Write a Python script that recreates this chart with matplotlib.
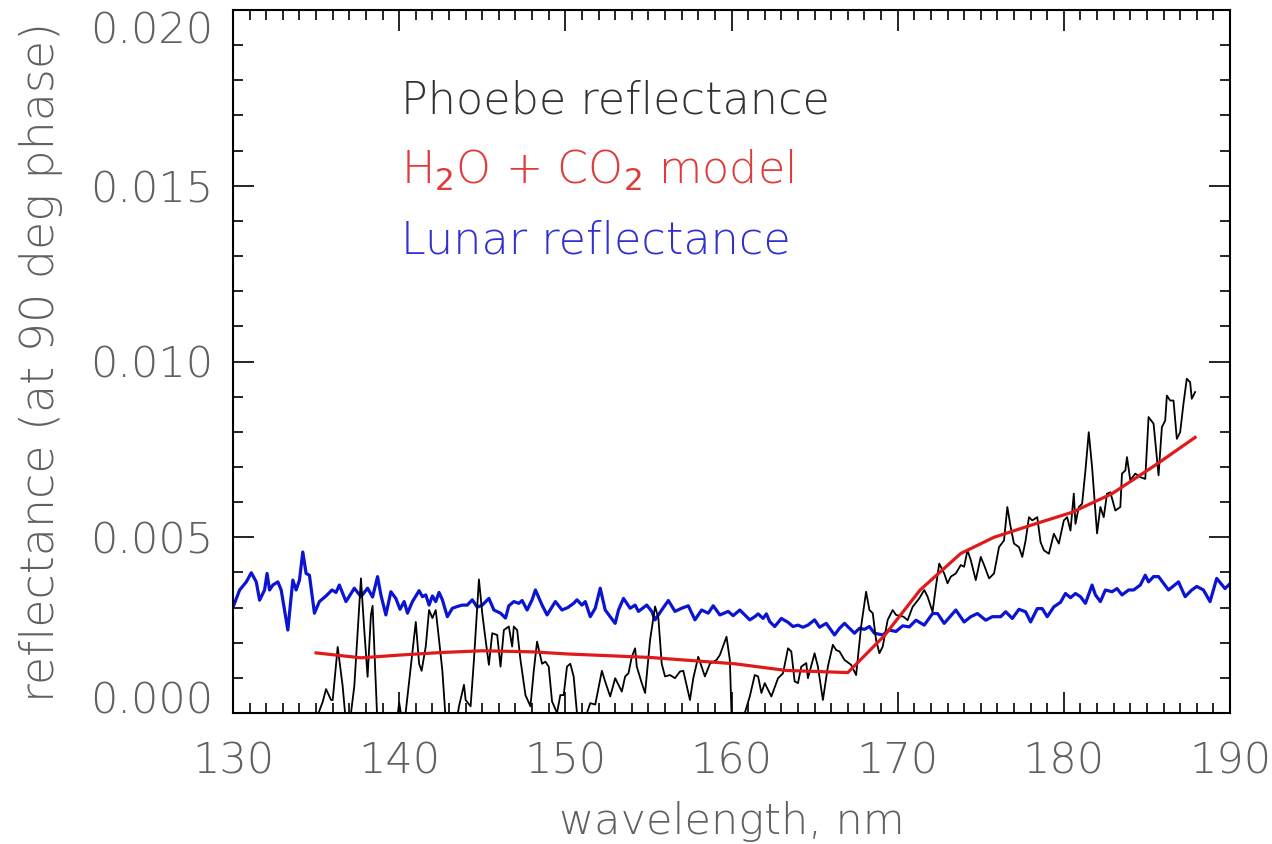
import numpy as np
import matplotlib
matplotlib.use('Agg')
import matplotlib.pyplot as plt
from matplotlib.ticker import MultipleLocator

# Lunar reflectance (blue)
lunar_wl = [130.0, 130.4, 130.8, 131.1, 131.4, 131.6, 131.9, 132.05, 132.2, 132.4, 132.7, 132.9,
            133.3, 133.6, 133.8, 134.0, 134.2, 134.4, 134.6, 134.9, 135.2, 135.6, 135.96, 136.2,
            136.4, 136.8, 137.3, 137.7, 138.1, 138.4, 138.7, 138.9, 139.2, 139.5, 139.8, 140.05,
            140.3, 140.5, 140.8, 141.2, 141.4, 141.6, 141.8, 142.0, 142.2, 142.4, 142.6, 142.9,
            143.2, 143.5, 143.8, 144.1, 144.4, 144.7, 145.0, 145.4, 145.7, 146.1, 146.4, 146.6,
            146.9, 147.2, 147.4, 147.7, 148.0, 148.2, 148.6, 148.9, 149.4, 149.8, 150.15, 150.5,
            150.7, 151.0, 151.2, 151.5, 151.8, 152.1, 152.4, 152.7, 153.0, 153.2, 153.5, 153.9,
            154.2, 154.4, 154.9, 155.2, 155.4, 155.8, 156.2, 156.6, 157.0, 157.4, 157.8, 158.2,
            158.6, 158.9, 159.3, 159.8, 160.1, 160.5, 160.8, 161.1, 161.4, 161.6, 161.9, 162.1,
            162.3, 162.6, 163.0, 163.4, 163.7, 164.0, 164.3, 164.6, 165.0, 165.3, 165.7, 166.2,
            166.5, 166.8, 167.1, 167.4, 167.7, 168.0, 168.3, 168.6, 169.1, 169.5, 169.9, 170.3,
            170.7, 171.1, 171.6, 172.1, 172.4, 172.8, 173.5, 174.0, 174.4, 174.8, 175.3, 175.7,
            176.2, 176.5, 176.9, 177.3, 177.7, 178.0, 178.4, 178.7, 179.0, 179.4, 179.8, 180.1,
            180.4, 180.7, 181.0, 181.3, 181.7, 181.9, 182.2, 182.5, 182.9, 183.2, 183.5, 183.9,
            184.2, 184.6, 184.9, 185.1, 185.4, 185.7, 186.3, 186.9, 187.3, 187.7, 188.0, 188.4,
            188.8, 189.2, 189.7, 190.0]
lunar_r = [0.00301, 0.0035, 0.00373, 0.00399, 0.00373, 0.00321, 0.0035, 0.00397, 0.0035, 0.00364, 0.00373, 0.0035,
           0.00236, 0.00378, 0.0035, 0.00378, 0.00458, 0.00397, 0.00392, 0.00284, 0.00317, 0.00333, 0.0035, 0.00343,
           0.00364, 0.00317, 0.00355, 0.00331, 0.00355, 0.0033, 0.00388, 0.00336, 0.00279, 0.00345, 0.00326, 0.00295,
           0.00317, 0.00284, 0.00317, 0.00348, 0.00331, 0.00336, 0.00307, 0.00333, 0.00317, 0.00343, 0.00322, 0.00274,
           0.00298, 0.00303, 0.00307, 0.00307, 0.00322, 0.00301, 0.00307, 0.00326, 0.00293, 0.00284, 0.0027, 0.00305,
           0.00317, 0.00312, 0.0032, 0.00293, 0.00322, 0.0035, 0.00307, 0.00279, 0.00317, 0.00293, 0.003, 0.00312,
           0.00322, 0.00307, 0.00317, 0.00274, 0.00298, 0.00355, 0.00293, 0.00274, 0.00255, 0.00293, 0.00326, 0.00298,
           0.00307, 0.00289, 0.00307, 0.00289, 0.00265, 0.00293, 0.0032, 0.00289, 0.00298, 0.00305, 0.00265, 0.00293,
           0.00284, 0.00305, 0.00279, 0.00289, 0.00277, 0.00293, 0.00279, 0.00265, 0.00274, 0.00282, 0.00269, 0.00282,
           0.0026, 0.00246, 0.00269, 0.00258, 0.00246, 0.0025, 0.00244, 0.0025, 0.00265, 0.00244, 0.00255, 0.00222,
           0.00241, 0.00255, 0.00241, 0.00227, 0.00241, 0.00238, 0.00246, 0.00227, 0.00222, 0.00236, 0.00232, 0.00248,
           0.00245, 0.00264, 0.0025, 0.00283, 0.00283, 0.00255, 0.00293, 0.00259, 0.00274, 0.00283, 0.00264, 0.00274,
           0.00274, 0.00288, 0.00269, 0.00295, 0.00288, 0.00259, 0.00297, 0.00297, 0.00274, 0.00302, 0.00315, 0.0034,
           0.00328, 0.0034, 0.00331, 0.00312, 0.00364, 0.00336, 0.00317, 0.0035, 0.00345, 0.00354, 0.00336, 0.0035,
           0.0035, 0.00364, 0.00392, 0.00373, 0.00388, 0.00388, 0.0035, 0.00373, 0.00331, 0.0035, 0.0036, 0.0035,
           0.00317, 0.00383, 0.00354, 0.00368]

# Phoebe reflectance (black)
phoebe_wl = [135.15, 135.4, 135.6, 135.9, 136.0, 136.3, 136.6, 136.8, 137.1, 137.3, 137.7, 137.9,
             138.1, 138.3, 138.4, 138.7, 139.0, 139.5, 139.8, 140.0, 140.2, 140.4, 140.7, 141.0,
             141.2, 141.35, 141.6, 141.8, 142.0, 142.2, 142.4, 142.6, 142.8, 143.1, 143.4, 143.6,
             143.9, 144.0, 144.3, 144.5, 144.8, 145.0, 145.2, 145.4, 145.6, 145.9, 146.1, 146.3,
             146.6, 146.8, 146.9, 147.1, 147.3, 147.6, 147.9, 148.1, 148.3, 148.6, 148.8, 149.0,
             149.2, 149.5, 149.7, 149.9, 150.1, 150.3, 150.5, 150.7, 150.9, 151.1, 151.3, 151.5,
             151.8, 152.2, 152.4, 152.7, 153.0, 153.4, 153.6, 153.8, 154.0, 154.2, 154.3, 154.6,
             154.8, 155.1, 155.4, 155.6, 155.8, 156.0, 156.3, 156.6, 156.9, 157.1, 157.5, 157.7,
             158.0, 158.4, 158.7, 159.1, 159.3, 159.7, 159.9, 160.0, 160.2, 160.5, 160.8, 161.1,
             161.4, 161.6, 161.8, 162.0, 162.4, 162.8, 163.1, 163.4, 163.6, 163.8, 164.0, 164.2,
             164.5, 164.6, 165.0, 165.2, 165.5, 165.8, 166.1, 166.3, 166.5, 166.8, 167.2, 167.5,
             167.8, 168.1, 168.3, 168.5, 168.7, 168.9, 169.1, 169.4, 169.7, 169.9, 170.35, 170.6,
             170.9, 171.3, 171.6, 171.8, 172.1, 172.3, 172.5, 172.8, 173.0, 173.2, 173.5, 173.8,
             174.0, 174.2, 174.4, 174.7, 175.0, 175.2, 175.5, 175.8, 176.1, 176.4, 176.6, 176.8,
             177.0, 177.3, 177.5, 177.7, 177.9, 178.1, 178.4, 178.6, 178.8, 179.1, 179.4, 179.7,
             180.0, 180.2, 180.4, 180.6, 180.7, 180.9, 181.1, 181.3, 181.5, 181.7, 182.0, 182.2,
             182.4, 182.6, 182.8, 183.1, 183.4, 183.5, 183.7, 183.8, 184.0, 184.3, 184.6, 184.9,
             185.1, 185.4, 185.7, 185.9, 186.1, 186.2, 186.4, 186.6, 186.8, 187.0, 187.2, 187.4,
             187.6, 187.7, 187.9]
phoebe_r = [0.0, 0.00032, 0.00068, 0.00037, 0.00037, 0.00188, 0.00076, -0.0003, 0.0, 0.00076, 0.00383, 0.00236,
            0.00103, 0.00279, 0.00305, -0.0004, -0.0012, -0.0008, -0.0005, 0.0003, -0.0003, 0.00005, 0.00132, 0.00259,
            0.0014, 0.0012, 0.00189, 0.00293, 0.0027, 0.00293, 0.00208, 0.0012, -0.0002, -0.0009, -0.0004, 0.00019,
            0.0008, 0.00037, 0.00019, 0.00151, 0.0038, 0.00284, 0.00208, 0.00137, 0.00227, 0.00222, 0.00132, 0.00236,
            0.00246, 0.00189, 0.00246, 0.00236, 0.00151, 0.00051, 0.00019, 0.0012, 0.00203, 0.0014, 0.00146, 0.00132,
            0.00033, 0.0, 0.00051, 0.00051, 0.00132, 0.0014, 0.00104, 0.0, -0.0008, -0.0005, 0.0, 0.00028,
            0.00024, 0.0012, 0.00089, 0.00047, 0.00099, 0.00061, 0.00104, 0.00113, 0.0016, 0.00184, 0.00132, 0.00085,
            0.00057, 0.00208, 0.00303, 0.0027, 0.0014, 0.00104, 0.00108, 0.00099, 0.00118, 0.0012, 0.00037, 0.00099,
            0.0016, 0.00104, 0.0014, 0.00151, 0.00165, 0.00217, 0.00151, 0.0, -0.0012, -0.0006, 0.0, 0.00047,
            0.00108, 0.00104, 0.00057, 0.00085, 0.00047, 0.00099, 0.00113, 0.00184, 0.00175, 0.0009, 0.00085, 0.00132,
            0.00142, 0.00099, 0.0017, 0.00132, 0.00037, 0.00132, 0.00194, 0.00179, 0.00175, 0.00151, 0.00137, 0.00108,
            0.00246, 0.00345, 0.00293, 0.00284, 0.00208, 0.0017, 0.00189, 0.00265, 0.00293, 0.00279, 0.00274, 0.00264,
            0.00302, 0.00326, 0.0035, 0.00331, 0.00288, 0.00359, 0.00425, 0.00397, 0.00369, 0.00388, 0.00397, 0.00421,
            0.00416, 0.00463, 0.00435, 0.00378, 0.00444, 0.00421, 0.00383, 0.00397, 0.00472, 0.00491, 0.00586, 0.00529,
            0.00482, 0.00472, 0.00444, 0.00491, 0.00557, 0.00548, 0.00557, 0.00486, 0.00463, 0.00453, 0.0051, 0.00482,
            0.00548, 0.00557, 0.00519, 0.00624, 0.00538, 0.00586, 0.00595, 0.0069, 0.00799, 0.00699, 0.00511, 0.00586,
            0.00557, 0.00624, 0.00628, 0.00576, 0.00586, 0.00681, 0.0069, 0.00728, 0.00662, 0.00681, 0.00671, 0.00666,
            0.00842, 0.00823, 0.00676, 0.00813, 0.00832, 0.00903, 0.00889, 0.00889, 0.0078, 0.00799, 0.0088, 0.00951,
            0.00941, 0.00894, 0.00913]

# H2O + CO2 model (red)
model_wl = [135.0, 137.7, 140.1, 142.5, 145.0, 148.0, 150.1, 155.1, 160.2, 163.3, 167.0, 169.2,
            171.35, 173.8, 175.8, 178.4, 180.5, 182.9, 185.5, 187.9]
model_r = [0.00171, 0.00157, 0.00165, 0.00172, 0.00177, 0.00174, 0.00168, 0.00158, 0.0014, 0.00121, 0.00115, 0.0022,
           0.0035, 0.00454, 0.005, 0.0054, 0.00571, 0.00624, 0.00705, 0.00784]

yticks = [0.000, 0.005, 0.010, 0.015, 0.020]
ytick_labels = ['0.000', '0.005', '0.010', '0.015', '0.020']

plt.rcParams['font.family'] = ['DejaVu Sans']
txt_gray = '#606060'

fig = plt.figure(figsize=(12.72, 8.44), dpi=100)
ax = fig.add_axes([233 / 1272, 1 - 713 / 844, (1230 - 233) / 1272, (713 - 10) / 844])

ax.plot(lunar_wl, lunar_r, color='#0a14d2', lw=2.3)
ax.plot(phoebe_wl, phoebe_r, color='black', lw=1.3)
ax.plot(model_wl, model_r, color='#e01a1a', lw=2.3)

ax.set_xlim(130, 190)
ax.set_ylim(0, 0.020)
ax.xaxis.set_major_locator(MultipleLocator(10))
ax.xaxis.set_minor_locator(MultipleLocator(1))
ax.set_yticks(yticks, ytick_labels)
ax.yaxis.set_minor_locator(MultipleLocator(0.001))

ax.tick_params(which='both', direction='in', top=True, right=True, width=1.2, color='black')
ax.tick_params(which='major', length=15)
ax.tick_params(which='minor', length=7.5)
ax.tick_params(axis='x', which='major', pad=20, labelsize=31, labelcolor=txt_gray)
ax.tick_params(axis='y', which='major', pad=14, labelsize=31, labelcolor=txt_gray)
for s in ax.spines.values():
    s.set_linewidth(1.5)

for t in ax.xaxis.get_major_ticks() + ax.yaxis.get_major_ticks():
    t.label1.set_fontweight('light')
# keep the end labels of the y axis inside the plot height
ymaj = ax.yaxis.get_major_ticks()
ymaj[0].label1.set_verticalalignment('baseline')
ymaj[-1].label1.set_verticalalignment('top')

ax.set_xlabel('wavelength, nm', fontsize=31, color=txt_gray, labelpad=14, fontweight='light')
ax.set_ylabel('reflectance (at 90 deg phase)', fontsize=33, color=txt_gray, labelpad=20,
              fontweight='light')

ax.text(140.1, 0.01742, 'Phoebe reflectance', fontsize=32, color='#333333', va='center',
        fontweight='light')
ax.text(140.1, 0.01543, r'H$_2$O + CO$_2$ model', fontsize=32, color='#e03a3a', va='center',
        fontweight='light')
ax.text(140.1, 0.01344, 'Lunar reflectance', fontsize=32, color='#3030d0', va='center',
        fontweight='light')

plt.savefig('out.png', dpi=100)
